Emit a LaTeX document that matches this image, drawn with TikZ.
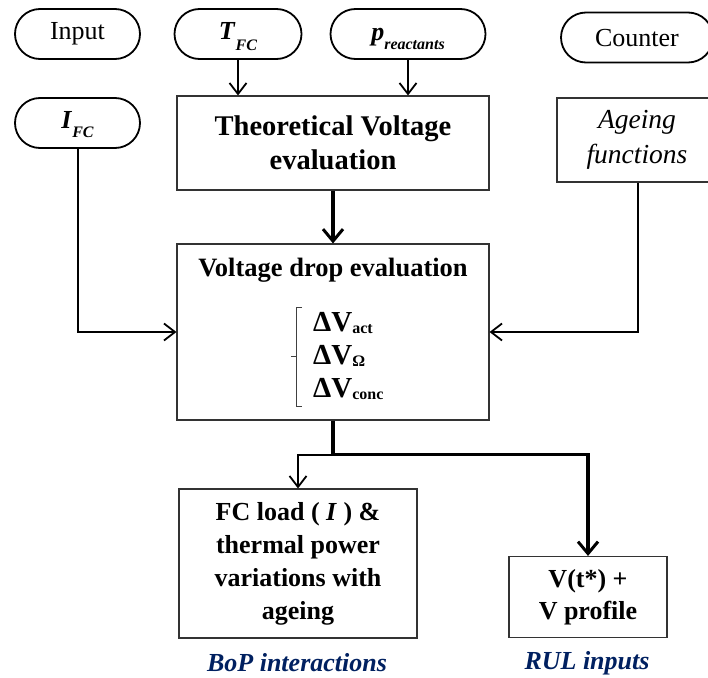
\documentclass[tikz,border=0pt]{standalone}
\usepackage{fontspec}
\setmainfont{Liberation Serif}
\usetikzlibrary{arrows.meta,shapes.misc,calc}
\definecolor{navy}{RGB}{0,32,96}
\newcommand\lowsub[2][10pt]{\raisebox{-#1}{\fontsize{16}{16}\selectfont #2}}
\newcommand\dsub[1]{\raisebox{-2pt}{\fontsize{16}{16}\selectfont\bfseries #1}}
\tikzset{
  txt/.style={font=\fontsize{26}{33}\selectfont, align=center, inner sep=0pt},
  terminal/.style={txt, rounded rectangle, draw, line width=1.8pt, minimum height=50pt,
    text height=18pt, text depth=6pt},
  procbox/.style={txt, rectangle, draw=black!80, line width=1.1pt},
  thinarrow/.style={line width=2pt, -{Straight Barb[length=11pt,width=17pt,line width=1.8pt]}},
  thickarrow/.style={line width=3.2pt, -{Straight Barb[length=12pt,width=20pt,line width=3pt]}},
  thickline/.style={line width=3.2pt},
  caption/.style={txt, text=navy, font=\fontsize{26}{33}\selectfont\bfseries\itshape}
}
\begin{document}
\begin{tikzpicture}[x=1pt,y=-1pt]
\useasboundingbox (0,0) rectangle (708,677);

% input terminals
\node[terminal, minimum width=125pt] (inp) at (77.5,34) {Input};
\node[terminal, minimum width=127pt] (tfc) at (238,34) {\textbf{\textit{T}}\lowsub[11pt]{\bfseries\itshape FC}};
\node[terminal, minimum width=155pt, text depth=4pt] (prc) at (408,34) {\textbf{\textit{p}}\lowsub[9pt]{\bfseries\itshape reactants}};
\node[terminal, minimum width=152pt, text height=24pt, text depth=5pt] (cnt) at (637,37.5) {Counter};
\node[terminal, minimum width=125pt, text depth=7pt] (ifc) at (77.5,123) {\textbf{\textit{I}}\lowsub[9pt]{\bfseries\itshape FC}};

% processing blocks
\node[procbox, minimum width=312pt, minimum height=94pt, font=\fontsize{28.5}{34}\selectfont\bfseries] (theo) at (333,143) {Theoretical Voltage\\evaluation};
\node[procbox, minimum width=160pt, minimum height=84pt, font=\fontsize{27.5}{35}\selectfont\itshape] (age) at (637,140) {Ageing\\functions};
\node[procbox, minimum width=312pt, minimum height=176pt] (vd) at (333,332) {};
\node[txt, font=\fontsize{26.5}{33}\selectfont\bfseries] (vdt) at (333,270) {Voltage drop evaluation};
\node[txt, font=\fontsize{29}{33}\selectfont\bfseries, align=left, anchor=west] (dv) at (313,356)
  {ΔV\dsub{act}\\ΔV\dsub{Ω}\\ΔV\dsub{conc}};
\node[procbox, minimum width=238pt, minimum height=149pt, font=\fontsize{26}{33}\selectfont\bfseries] (fcl) at (298,563.5)
  {FC load ( \textit{I} ) \&\\thermal power\\variations with\\ageing};
\node[procbox, minimum width=158pt, minimum height=81pt, font=\fontsize{26}{32}\selectfont\bfseries] (vt) at (588,597)
  {V(t*) +\\V profile};

% captions
\node[caption] (bop) at (297,663) {BoP interactions};
\node[caption] (rul) at (587,663) {RUL inputs};

% bracket grouping the voltage losses
\coordinate (brtop) at (296,307);
\coordinate (brbot) at (296,406);
\draw[line width=0.9pt, black!75] ($(brtop)+(6,0)$) -- (brtop) -- (brbot) -- ($(brbot)+(6,0)$);
\draw[line width=0.9pt, black!75] ($(brtop)!0.5!(brbot)$) -- ++(-5,0);

% connectors
\draw[thinarrow] (tfc.south) -- (tfc.south |- theo.north);
\draw[thinarrow] (prc.south) -- (prc.south |- theo.north);
\draw[thickarrow] (theo.south) -- (vd.north);
\draw[thinarrow] (ifc.south) |- (vd.west);
\draw[thinarrow] ([xshift=1pt]age.south) |- (vd.east);
\coordinate (split) at ($(vd.south)+(0,34)$);
\draw[thickline] (vd.south) -- (split);
\draw[thinarrow] (split) -| (fcl.north);
\draw[thickarrow] (split) -| (vt.north);
\end{tikzpicture}
\end{document}
